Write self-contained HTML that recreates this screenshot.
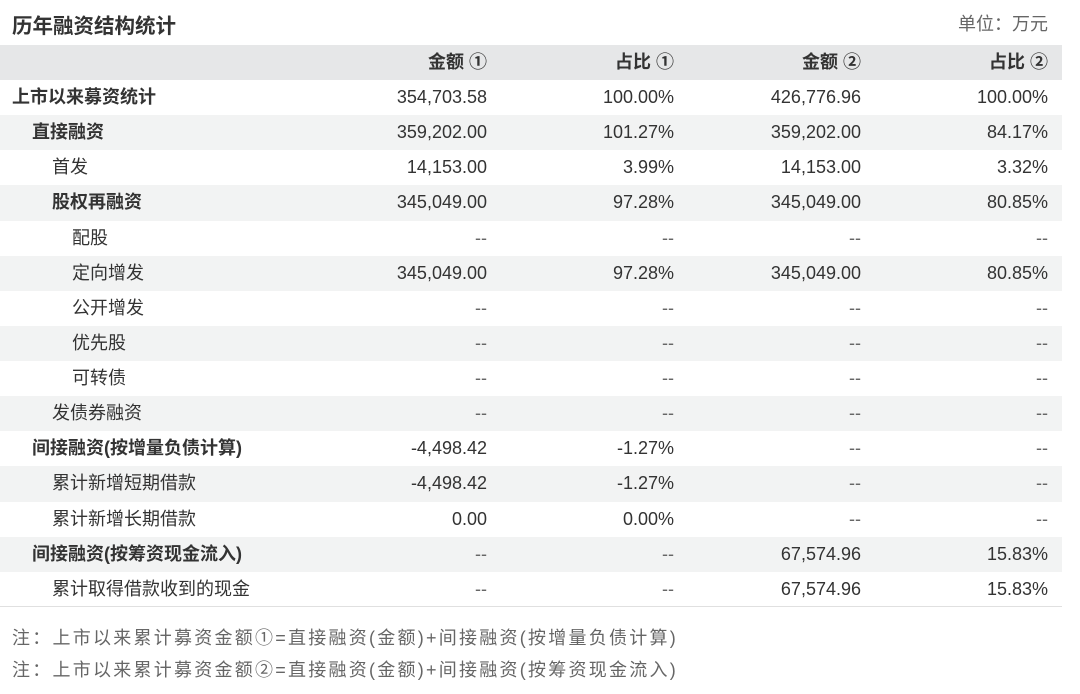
<!DOCTYPE html><html><head><meta charset="utf-8"><style>
body{margin:0;width:1080px;height:694px;background:#fff;font-family:"Liberation Sans","Noto Sans CJK SC",sans-serif;color:#333;position:relative;overflow:hidden}
.t{position:absolute;left:12px;top:9px;font-size:20.5px;font-weight:bold;color:#333}
.u{position:absolute;right:32px;top:10px;font-size:18px;color:#666}
.row{position:absolute;left:0;width:1062px;height:35.2px;font-size:18px;line-height:35.2px}
.g{background:#f2f3f3}.h{background:#e6e7e8;font-weight:bold}
.row span{position:absolute;white-space:nowrap}
.c1{right:575px}.c2{right:388px}.c3{right:201px}.c4{right:14px}
.b{font-weight:bold}.d{color:#666}
.n{position:absolute;left:12px;font-size:18px;color:#666;letter-spacing:2.25px;white-space:nowrap}
.line{position:absolute;left:0;width:1062px;top:606px;border-top:1px solid #e0e0e0}
</style></head><body>
<div class="t">历年融资结构统计</div><div class="u">单位：万元</div>
<div class="row h" style="top:45px"><span class="c1">金额 ①</span><span class="c2">占比 ①</span><span class="c3">金额 ②</span><span class="c4">占比 ②</span></div>
<div id="r"></div>
<script>
var d=[["上市以来募资统计",0,1,"354,703.58","100.00%","426,776.96","100.00%"],
["直接融资",1,1,"359,202.00","101.27%","359,202.00","84.17%"],
["首发",2,0,"14,153.00","3.99%","14,153.00","3.32%"],
["股权再融资",2,1,"345,049.00","97.28%","345,049.00","80.85%"],
["配股",3,0,"--","--","--","--"],
["定向增发",3,0,"345,049.00","97.28%","345,049.00","80.85%"],
["公开增发",3,0,"--","--","--","--"],
["优先股",3,0,"--","--","--","--"],
["可转债",3,0,"--","--","--","--"],
["发债券融资",2,0,"--","--","--","--"],
["间接融资(按增量负债计算)",1,1,"-4,498.42","-1.27%","--","--"],
["累计新增短期借款",2,0,"-4,498.42","-1.27%","--","--"],
["累计新增长期借款",2,0,"0.00","0.00%","--","--"],
["间接融资(按筹资现金流入)",1,1,"--","--","67,574.96","15.83%"],
["累计取得借款收到的现金",2,0,"--","--","67,574.96","15.83%"]];
var h="";d.forEach(function(r,i){h+='<div class="row'+(i%2?' g':'')+'" style="top:'+(80+i*35.13)+'px"><span class="'+(r[2]?'b':'')+'" style="left:'+(12+r[1]*20)+'px">'+r[0]+'</span>';
for(var k=0;k<4;k++){var v=r[3+k];h+='<span class="c'+(k+1)+(v=="--"?' d':'')+'">'+v+'</span>';}h+='</div>';});
document.getElementById("r").innerHTML=h;
</script>
<div class="line"></div>
<div class="n" style="top:624px">注：上市以来累计募资金额①=直接融资(金额)+间接融资(按增量负债计算)</div>
<div class="n" style="top:656px">注：上市以来累计募资金额②=直接融资(金额)+间接融资(按筹资现金流入)</div>
</body></html>
